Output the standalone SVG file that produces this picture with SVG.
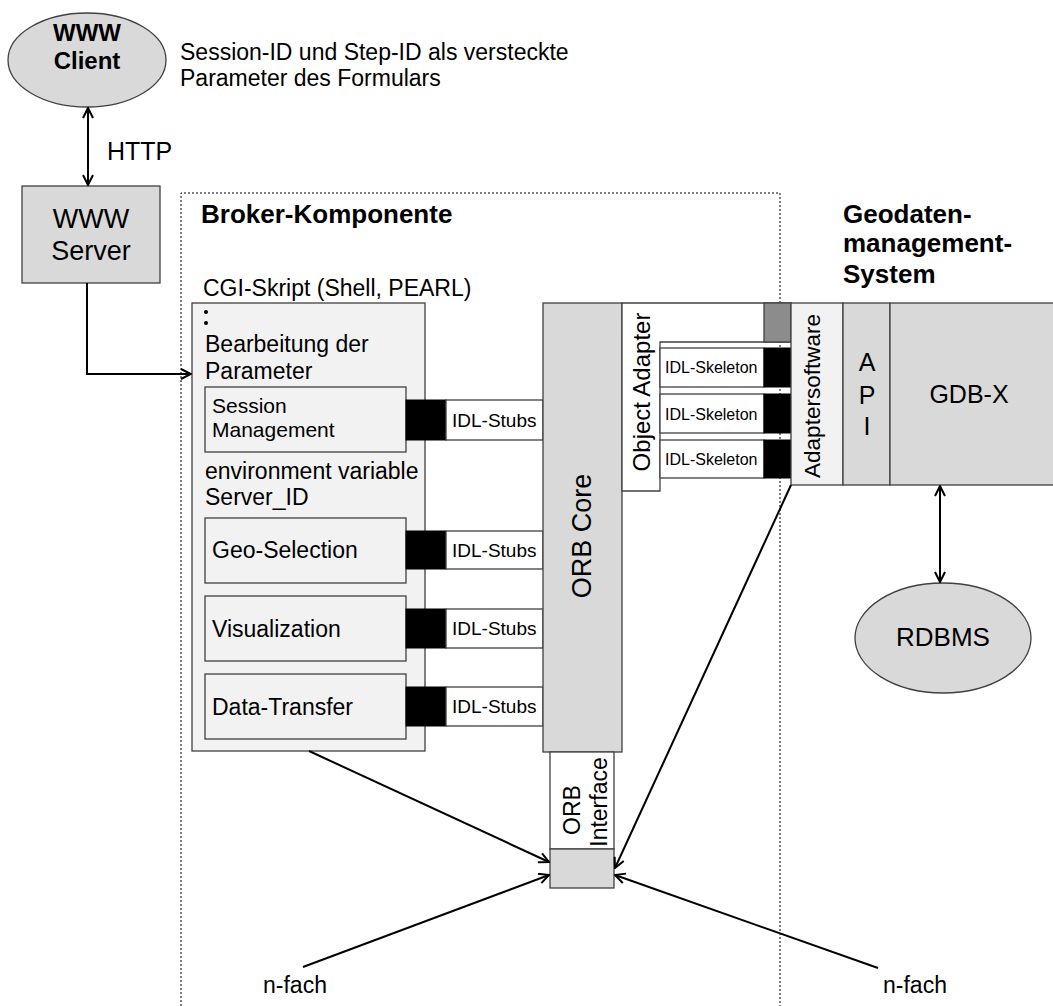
<svg xmlns="http://www.w3.org/2000/svg" width="1053" height="1006" viewBox="0 0 1053 1006">
<defs>
<style>
text{font-family:"Liberation Sans",Arial,sans-serif;fill:#000}
.b{font-weight:bold}
.box{stroke:#404040;stroke-width:1.3}
.lt{fill:#f2f2f2}
.md{fill:#d9d9d9}
.wh{fill:#fff}
.blk{fill:#000;stroke:#000}
.con{stroke:#000;stroke-width:2;fill:none}
.dash{stroke:#000;stroke-width:1;stroke-dasharray:2 2;fill:none}
</style>
<marker id="ah" viewBox="0 0 12 12" refX="11" refY="6" markerWidth="12" markerHeight="12" markerUnits="userSpaceOnUse" orient="auto-start-reverse">
<path d="M1,1 L11,6 L1,11" fill="none" stroke="#000" stroke-width="2"/>
</marker>
</defs>
<rect width="1053" height="1006" fill="#fff"/>

<g id="broker-frame">
<path class="dash" d="M181,1006 V193 H780 V1006"/>
<text class="b" x="201" y="223" font-size="26">Broker-Komponente</text>
</g>

<g id="note">
<text x="180" y="60" font-size="23">Session-ID und Step-ID als versteckte</text>
<text x="180" y="86" font-size="23">Parameter des Formulars</text>
</g>

<g id="www-client">
<ellipse class="box md" cx="87" cy="60" rx="79" ry="47"/>
<text class="b" x="87" y="41" font-size="24" text-anchor="middle">WWW</text>
<text class="b" x="87" y="69" font-size="24" text-anchor="middle">Client</text>
</g>

<g id="www-server">
<rect class="box md" x="22" y="186" width="138" height="97"/>
<text x="91" y="228" font-size="27" text-anchor="middle">WWW</text>
<text x="91" y="260" font-size="27" text-anchor="middle">Server</text>
</g>

<g id="cgi">
<text x="203" y="296" font-size="23">CGI-Skript (Shell, PEARL)</text>
<rect class="box lt" x="192" y="303" width="233" height="448"/>
<circle cx="206" cy="312" r="2"/>
<circle cx="206" cy="323" r="2"/>
<text x="205" y="352" font-size="23">Bearbeitung der</text>
<text x="205" y="379" font-size="23">Parameter</text>
<text x="205" y="479" font-size="23">environment variable</text>
<text x="205" y="505" font-size="23">Server_ID</text>
</g>

<g id="session">
<rect class="box lt" x="205" y="387" width="201" height="65"/>
<text x="212" y="413" font-size="21">Session</text>
<text x="212" y="437" font-size="21">Management</text>
<rect class="blk" x="406" y="400" width="40" height="40"/>
<rect class="box wh" x="446" y="400" width="97" height="40"/>
<text x="452" y="427" font-size="19">IDL-Stubs</text>
</g>

<g id="geo">
<rect class="box lt" x="205" y="518" width="201" height="65"/>
<text x="212" y="558" font-size="23">Geo-Selection</text>
<rect class="blk" x="406" y="531" width="40" height="38"/>
<rect class="box wh" x="446" y="531" width="97" height="38"/>
<text x="452" y="557" font-size="19">IDL-Stubs</text>
</g>

<g id="vis">
<rect class="box lt" x="205" y="596" width="201" height="65"/>
<text x="212" y="637" font-size="23">Visualization</text>
<rect class="blk" x="406" y="609" width="40" height="39"/>
<rect class="box wh" x="446" y="609" width="97" height="39"/>
<text x="452" y="635" font-size="19">IDL-Stubs</text>
</g>

<g id="dt">
<rect class="box lt" x="205" y="674" width="201" height="65"/>
<text x="212" y="715" font-size="23">Data-Transfer</text>
<rect class="blk" x="406" y="687" width="40" height="39"/>
<rect class="box wh" x="446" y="687" width="97" height="39"/>
<text x="452" y="713" font-size="19">IDL-Stubs</text>
</g>

<g id="orb-core">
<rect class="box md" x="543" y="303" width="79" height="449"/>
<text transform="translate(591,536) rotate(-90)" font-size="27" text-anchor="middle">ORB Core</text>
</g>

<g id="orb-interface">
<rect class="box wh" x="550" y="752" width="64" height="97"/>
<text transform="translate(580,810) rotate(-90)" font-size="23" text-anchor="middle">ORB</text>
<text transform="translate(607,802) rotate(-90)" font-size="23" text-anchor="middle">Interface</text>
<rect class="box md" x="550" y="849" width="64" height="39"/>
</g>

<g id="object-adapter">
<path class="box wh" d="M622,303 H791 V342 H660 V491 H622 Z"/>
<rect class="box" fill="#8c8c8c" x="764" y="303" width="27" height="39"/>
<text transform="translate(650,392) rotate(-90)" font-size="24" text-anchor="middle">Object Adapter</text>
<rect class="box wh" x="660" y="348" width="104" height="39"/>
<rect class="blk" x="764" y="348" width="27" height="39"/>
<text x="665" y="373" font-size="16">IDL-Skeleton</text>
<rect class="box wh" x="660" y="394" width="104" height="39"/>
<rect class="blk" x="764" y="394" width="27" height="39"/>
<text x="665" y="420" font-size="16">IDL-Skeleton</text>
<rect class="box wh" x="660" y="440" width="104" height="38"/>
<rect class="blk" x="764" y="440" width="27" height="38"/>
<text x="665" y="465" font-size="16">IDL-Skeleton</text>
</g>

<g id="geodaten">
<text class="b" x="843" y="223" font-size="26">Geodaten-</text>
<text class="b" x="843" y="252" font-size="26">management-</text>
<text class="b" x="843" y="283" font-size="26">System</text>
<rect class="box lt" x="791" y="303" width="52" height="182"/>
<text transform="translate(820,396) rotate(-90)" font-size="22.5" text-anchor="middle">Adaptersoftware</text>
<rect class="box md" x="843" y="303" width="47" height="182"/>
<text x="867" y="371" font-size="25" text-anchor="middle">A</text>
<text x="867" y="404" font-size="25" text-anchor="middle">P</text>
<text x="867" y="435" font-size="25" text-anchor="middle">I</text>
<rect class="box md" x="890" y="303" width="170" height="182"/>
<text x="969" y="403" font-size="25" text-anchor="middle">GDB-X</text>
</g>

<g id="rdbms">
<ellipse class="box md" cx="943" cy="638" rx="88" ry="55"/>
<text x="943" y="646" font-size="26" text-anchor="middle">RDBMS</text>
</g>

<g id="labels">
<text x="107" y="160" font-size="25">HTTP</text>
<text x="263" y="993" font-size="23">n-fach</text>
<text x="883" y="993" font-size="23">n-fach</text>
</g>

<g id="connectors">
<line class="con" x1="88" y1="108" x2="88" y2="185" marker-start="url(#ah)" marker-end="url(#ah)"/>
<polyline class="con" points="87,283 87,374 191,374" marker-end="url(#ah)"/>
<line class="con" x1="940" y1="486" x2="940" y2="582" marker-start="url(#ah)" marker-end="url(#ah)"/>
<line class="con" x1="309" y1="751" x2="549" y2="862" marker-end="url(#ah)"/>
<line class="con" x1="791" y1="485" x2="615" y2="868" marker-end="url(#ah)"/>
<line class="con" x1="303" y1="967" x2="549" y2="875" marker-end="url(#ah)"/>
<line class="con" x1="878" y1="968" x2="615" y2="875" marker-end="url(#ah)"/>
</g>
</svg>
